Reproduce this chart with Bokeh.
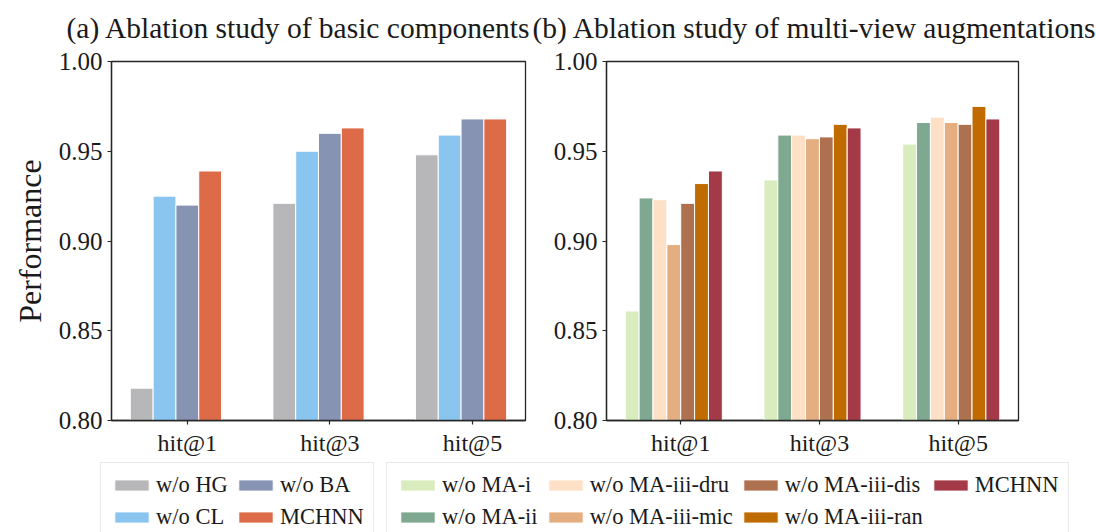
from bokeh.plotting import figure
from bokeh.models import (Range1d, FixedTicker, PrintfTickFormatter, Legend,
                          LegendItem, Label)
from bokeh.layouts import column, row
from bokeh.embed import file_html
from bokeh.resources import INLINE

# ---------------- data ----------------
categories = ["hit@1", "hit@3", "hit@5"]

# (a) basic components
a_labels = ["w/o HG", "w/o CL", "w/o BA", "MCHNN"]
a_wo_hg = [0.818, 0.921, 0.948]
a_wo_cl = [0.925, 0.950, 0.959]
a_wo_ba = [0.920, 0.960, 0.968]
a_mchnn = [0.939, 0.963, 0.968]
a_colors = ["#b7b7b9", "#89c5ef", "#8793b3", "#de6b48"]

# (b) multi-view augmentations
b_labels = ["w/o MA-i", "w/o MA-ii", "w/o MA-iii-dru", "w/o MA-iii-mic",
            "w/o MA-iii-dis", "w/o MA-iii-ran", "MCHNN"]
b_wo_ma_i = [0.861, 0.934, 0.954]
b_wo_ma_ii = [0.924, 0.959, 0.966]
b_wo_dru = [0.923, 0.959, 0.969]
b_wo_mic = [0.898, 0.957, 0.966]
b_wo_dis = [0.921, 0.958, 0.965]
b_wo_ran = [0.932, 0.965, 0.975]
b_mchnn = [0.939, 0.963, 0.968]
b_colors = ["#d9ecbd", "#7fa891", "#fde0c6", "#e5ae80", "#ae714f", "#bf6b00", "#a43a48"]

title_a = "(a) Ablation study of basic components"
title_b = "(b) Ablation study of multi-view augmentations"
y_ticks = [0.80, 0.85, 0.90, 0.95, 1.00]

FONT = "Liberation Serif"
TXT = "#1a1a1a"
FRAME = "#262626"


def style_panel(p, ylabel=None):
    p.xgrid.visible = False
    p.ygrid.visible = False
    p.outline_line_color = FRAME
    p.outline_line_width = 1.3
    p.xaxis.ticker = FixedTicker(ticks=list(range(len(categories))))
    p.xaxis.major_label_overrides = {i: c for i, c in enumerate(categories)}
    p.yaxis.ticker = FixedTicker(ticks=y_ticks)
    p.yaxis.formatter = PrintfTickFormatter(format="%.2f")
    for ax in (p.xaxis, p.yaxis):
        ax.minor_tick_line_color = None
        ax.major_tick_in = 0
        ax.major_tick_out = 4
        ax.major_tick_line_color = FRAME
        ax.major_tick_line_width = 1.2
        ax.axis_line_color = FRAME
        ax.axis_line_width = 1.3
        ax.major_label_text_font = FONT
        ax.major_label_text_color = TXT
        ax.major_label_standoff = 5
    p.xaxis.major_label_text_font_size = "24px"
    p.yaxis.major_label_text_font_size = "25px"
    if ylabel:
        p.yaxis.axis_label = ylabel
        p.yaxis.axis_label_text_font = FONT
        p.yaxis.axis_label_text_font_style = "normal"
        p.yaxis.axis_label_text_font_size = "32px"
        p.yaxis.axis_label_text_color = TXT
        p.yaxis.axis_label_standoff = 8


# ---------------- panel (a) ----------------
wa = 0.16
pa = figure(frame_width=414, frame_height=359,
            x_range=Range1d(-0.532, 2.372), y_range=Range1d(0.8, 1.0),
            min_border_left=111, min_border_right=5,
            min_border_top=15, min_border_bottom=40,
            output_backend="svg", toolbar_location=None)
a_series = [a_wo_hg, a_wo_cl, a_wo_ba, a_mchnn]
for i, (vals, col) in enumerate(zip(a_series, a_colors)):
    xs = [g + (i - 2) * wa for g in range(len(categories))]
    pa.vbar(x=xs, top=vals, bottom=0, width=wa, fill_color=col,
            line_color="white", line_width=1)
style_panel(pa, "Performance")

# ---------------- panel (b) ----------------
wb = 0.1
pb = figure(frame_width=412, frame_height=359,
            x_range=Range1d(-0.535, 2.435), y_range=Range1d(0.8, 1.0),
            min_border_left=76, min_border_right=78,
            min_border_top=15, min_border_bottom=40,
            output_backend="svg", toolbar_location=None)
b_series = [b_wo_ma_i, b_wo_ma_ii, b_wo_dru, b_wo_mic, b_wo_dis, b_wo_ran, b_mchnn]
for i, (vals, col) in enumerate(zip(b_series, b_colors)):
    xs = [g + (i - 3) * wb - wb / 2 for g in range(len(categories))]
    pb.vbar(x=xs, top=vals, bottom=0, width=wb, fill_color=col,
            line_color="white", line_width=1)
style_panel(pb)

# ---------------- titles ----------------
TH = 46
pt = figure(width=1096, height=TH, x_range=Range1d(0, 1096), y_range=Range1d(0, TH),
            x_axis_location=None, y_axis_location=None, min_border=0,
            output_backend="svg", toolbar_location=None)
pt.grid.visible = False
pt.outline_line_color = None
for tx, t in ((66, title_a), (532, title_b)):
    pt.add_layout(Label(x=tx, y=TH / 2, text=t, text_font=FONT, text_font_size="29.5px",
                        text_color=TXT, text_baseline="middle", text_align="left",
                        y_offset=-4))

# ---------------- legends ----------------
pl = figure(width=1096, height=72, x_range=Range1d(0, 1096), y_range=Range1d(0, 72),
            x_axis_location=None, y_axis_location=None, min_border=0,
            output_backend="svg", toolbar_location=None)
pl.grid.visible = False
pl.outline_line_color = None


def make_legend(labels, colors, loc):
    items = []
    for lab, col in zip(labels, colors):
        # swatch-only renderer, placed outside the visible range
        r = pl.vbar(x=[-1000], top=[0], width=1, fill_color=col,
                    line_color="white", line_width=1)
        items.append(LegendItem(label=lab, renderers=[r]))
    leg = Legend(items=items, location=loc, orientation="vertical", nrows=2,
                 label_text_font=FONT, label_text_font_size="22.5px", label_text_color=TXT,
                 glyph_width=43, glyph_height=14, label_standoff=3, spacing=6,
                 padding=9, margin=0, border_line_color="#d4d4d4", border_line_width=1.2,
                 background_fill_color="white", background_fill_alpha=1)
    pl.add_layout(leg)


make_legend(a_labels, a_colors, (100, -8))
make_legend(b_labels, b_colors, (386, -8))

layout = column(pt, row(pa, pb), pl)
open("out.html", "w").write(file_html(layout, INLINE))
